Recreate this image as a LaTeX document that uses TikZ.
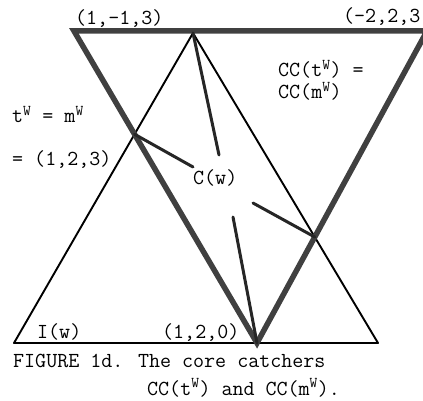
\documentclass[tikz,border=0pt]{standalone}
\usepackage{fontspec}
\newcommand\figfont{\ttfamily\fontsize{21.4}{24}\selectfont}
\newcommand\wsup{\textsuperscript{W}}
\tikzset{
  catcher/.style={line width=5.5pt, draw=black!75, line join=miter},
  simplex/.style={line width=1.9pt, draw=black, line join=round},
  spoke/.style={line width=3pt, draw=black!85, line cap=round},
  ptlabel/.style={inner sep=0pt, anchor=base west, font=\figfont},
}

\begin{document}
\begin{tikzpicture}[x=1pt, y=-1pt]
  \useasboundingbox (0,0) rectangle (423,401);

  % Vertices of the simplex I(w) (thin) and of the core catcher (thick)
  \coordinate (iL) at (14,343);
  \coordinate (iR) at (378,343);
  \coordinate (iTop) at (193,33);
  \coordinate (cL) at (74,31);
  \coordinate (cR) at (427,31);
  \coordinate (cBot) at (257,343);

  % Crossing points t^W = m^W and the right one
  \coordinate (tw) at (intersection of cL--cBot and iL--iTop);
  \coordinate (mx) at (intersection of cR--cBot and iR--iTop);

  % Free ends of the spokes round C(w)
  \coordinate (s1) at (193,167);
  \coordinate (s2) at (219,155);
  \coordinate (s3) at (253,203);
  \coordinate (s4) at (233,217);

  % Triangles
  \draw[simplex] (iL) -- (iTop) -- (iR) -- cycle;
  \draw[catcher] (cL) -- (cR) -- (cBot) -- cycle;

  % Spokes
  \draw[spoke] (tw) -- (s1);
  \draw[spoke] (iTop) -- (s2);
  \draw[spoke] (s3) -- (mx);
  \draw[spoke] (s4) -- (cBot);

  % Labels
  \node[ptlabel] (ptA) at (75,25) {(1,-1,3)};
  \node[ptlabel] (ptB) at (343,23) {(-2,2,3};
  \node[ptlabel] (cct) at (278,77) {CC(t\wsup) =};
  \node[ptlabel] (ccm) at (278,99) {CC(m\wsup)};
  \node[ptlabel] (twlab) at (12,123) {t\wsup{} = m\wsup};
  \node[ptlabel] (twpt) at (12,165) {= (1,2,3)};
  \node[ptlabel] (cw) at (193,184) {C(w)};
  \node[ptlabel] (iw) at (37,338) {I(w)};
  \node[ptlabel] (ptC) at (162,338) {(1,2,0)};

  % Caption
  \node[ptlabel] (cap1) at (13,367) {FIGURE 1d. The core catchers};
  \node[ptlabel] (cap2) at (147,395) {CC(t\wsup) and CC(m\wsup).};
\end{tikzpicture}
\end{document}
